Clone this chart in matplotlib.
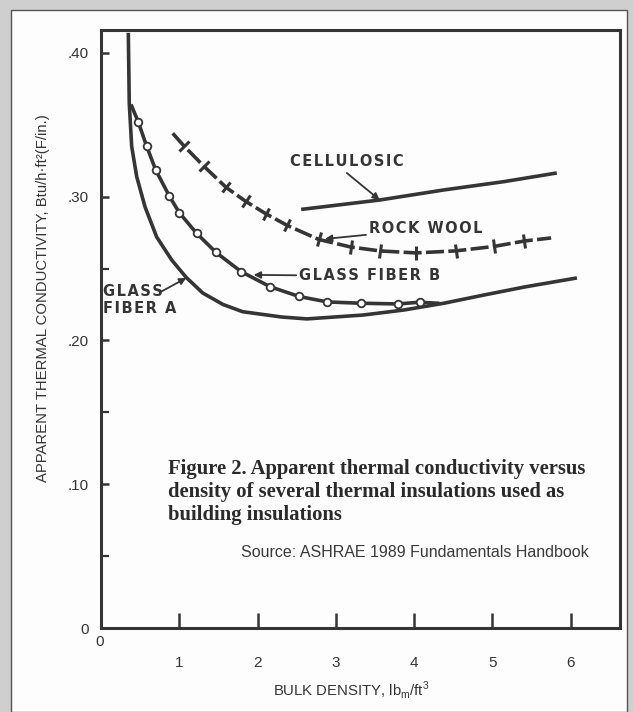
import numpy as np
import matplotlib
matplotlib.use("Agg")
import matplotlib.pyplot as plt
from matplotlib.patches import Rectangle
from matplotlib.markers import MarkerStyle
from matplotlib.transforms import Affine2D

# curves (density lb/ft3, k in Btu/h.ft2.(F/in.))
glass_a_x = [0.349, 0.361, 0.392, 0.456, 0.562, 0.711, 0.903, 1.086, 1.30, 1.56, 1.81,
             2.31, 2.63, 3.35, 3.87, 4.38, 4.90, 5.41, 6.08]
glass_a_y = [0.414, 0.365, 0.335, 0.314, 0.293, 0.272, 0.256, 0.244, 0.233, 0.225, 0.220,
             0.2163, 0.2150, 0.2177, 0.2212, 0.2259, 0.2317, 0.2372, 0.2435]

glass_b_x = [0.392, 0.476, 0.584, 0.699, 0.872, 1.00, 1.22, 1.47, 1.79, 2.16, 2.53,
             2.89, 3.32, 3.79, 4.07, 4.30]
glass_b_y = [0.363, 0.352, 0.335, 0.3186, 0.3005, 0.2889, 0.2746, 0.2612, 0.2479, 0.2374,
             0.2306, 0.2268, 0.2259, 0.2254, 0.2266, 0.2259]

rock_x = [0.916, 1.06, 1.31, 1.60, 1.85, 2.11, 2.38, 2.78, 3.19, 3.56, 4.02, 4.53, 5.02,
          5.41, 5.75]
rock_y = [0.3441, 0.3353, 0.3214, 0.3064, 0.2967, 0.2880, 0.2800, 0.2703, 0.2650, 0.2623,
          0.2609, 0.2623, 0.2654, 0.2692, 0.2713]

cell_x = [2.58, 3.56, 4.38, 5.15, 5.80]
cell_y = [0.2913, 0.2977, 0.3047, 0.3105, 0.3163]

x_ticks = [1, 2, 3, 4, 5, 6]
y_ticks = [0, 0.10, 0.20, 0.30, 0.40]
y_ticklabels = ["0", ".10", ".20", ".30", ".40"]

ink = "#353535"
W, H = 633, 712


def spaced(s):
    # the curve labels are set with wide letter spacing
    return "\u200a".join(s)


fig = plt.figure(figsize=(W / 100, H / 100), dpi=100, facecolor="#cfcfcf")
# white page with a thin frame, grey scan border around it
fig.patches.append(Rectangle((11 / W, 0), (627 - 11) / W, (H - 10) / H,
                             transform=fig.transFigure, fc="#fdfdfd", ec="#555555",
                             lw=1.0, zorder=-5))

ax = fig.add_axes([101 / W, (H - 628) / H, (620 - 101) / W, (628 - 29.5) / H])
ax.set_facecolor("none")
ax.set_xlim(0, 6.63)
ax.set_ylim(0, 0.4163)

for s in ax.spines.values():
    s.set_color(ink)
    s.set_linewidth(2.2)

ax.set_xticks(x_ticks)
ax.set_xticklabels([str(t) for t in x_ticks])
ax.set_yticks(y_ticks)
ax.set_yticklabels(y_ticklabels)
ax.set_yticks([0.05, 0.15, 0.25], minor=True)
ax.tick_params(axis="x", direction="in", length=11, width=1.8, color=ink, pad=20,
               labelsize=11, labelcolor=ink)
ax.tick_params(axis="y", direction="in", length=6, width=1.8, color=ink, pad=9,
               labelsize=11, labelcolor=ink)
ax.tick_params(axis="y", which="minor", direction="in", length=6, width=1.6, color=ink)
ax.tick_params(top=False, right=False)
for lab in ax.get_xticklabels() + ax.get_yticklabels():
    lab.set_fontfamily("Liberation Sans")
ax.annotate("0", xy=(0, 0), xytext=(-1, -10), textcoords="offset points",
            ha="center", va="center", fontsize=11, color=ink, family="Liberation Sans")

lw = 2.6
ax.plot(glass_a_x, glass_a_y, color=ink, lw=lw, solid_capstyle="butt")
ax.plot(glass_b_x, glass_b_y, color=ink, lw=lw)
ax.plot(glass_b_x[1:-1], glass_b_y[1:-1], ls="none", marker="o", ms=5.5,
        mfc="white", mec=ink, mew=1.3)
ax.plot(cell_x, cell_y, color=ink, lw=lw)
ax.plot(rock_x, rock_y, color=ink, lw=lw, dashes=(5, 1.2))

# cross ticks on the rock wool curve, turned perpendicular to the line
pts = ax.transData.transform(np.column_stack([rock_x, rock_y]))
for i in range(1, len(rock_x) - 1):
    d = pts[i + 1] - pts[i - 1]
    ang = np.degrees(np.arctan2(d[1], d[0]))
    m = MarkerStyle("|", transform=Affine2D().rotate_deg(ang))
    ax.plot(rock_x[i], rock_y[i], ls="none", marker=m, ms=10, mew=2.2, mec=ink)

lab_kw = dict(fontsize=10.5, color=ink, family="DejaVu Sans", fontweight="bold")
arr = dict(arrowstyle="-|>", color=ink, lw=1.3, mutation_scale=10, shrinkA=0, shrinkB=0)
ax.annotate(spaced("CELLULOSIC"), xy=(3.56, 0.2977),
            xytext=(2.41, 0.3242), va="center", ha="left", **lab_kw)
ax.annotate("", xy=(3.56, 0.2977), xytext=(3.14, 0.3165), arrowprops=arr)
ax.annotate(spaced("ROCK WOOL"), xy=(2.86, 0.2706), xytext=(3.42, 0.2776), va="center",
            ha="left", arrowprops=arr, **lab_kw)
ax.annotate(spaced("GLASS FIBER B"), xy=(1.95, 0.2456), xytext=(2.53, 0.2449),
            va="center", ha="left", arrowprops=arr, **lab_kw)
ax.annotate(spaced("GLASS") + "\n" + spaced("FIBER A"), xy=(1.09, 0.2435),
            xytext=(0.02, 0.2282), va="center", ha="left", linespacing=1.15, **lab_kw)
ax.annotate("", xy=(1.09, 0.2435), xytext=(0.77, 0.234), arrowprops=arr)

ax.text(0.85, 0.1175, "Figure 2. Apparent thermal conductivity versus\n"
        "density of several thermal insulations used as\nbuilding insulations",
        ha="left", va="top", fontsize=14.9, fontweight="bold", color="#2a2a2a",
        family="Liberation Serif", linespacing=1.2)
ax.text(6.23, 0.0522, "Source: ASHRAE 1989 Fundamentals Handbook", ha="right",
        va="center", fontsize=11.5, color="#3a3a3a", family="Liberation Sans")

fig.text(43 / W, (H - 298) / H, "APPARENT THERMAL CONDUCTIVITY, Btu/h\u00b7ft\u00b2(F/in.)",
         rotation=90, ha="center", va="center", fontsize=10.7, color=ink,
         family="Liberation Sans")
fig.text(351 / W, (H - 690) / H,
         r"BULK DENSITY, lb$_\mathregular{m}$/ft$^\mathregular{3}$",
         ha="center", va="center", fontsize=10.7, color=ink, family="Liberation Sans")

fig.savefig("out.png", dpi=100, facecolor=fig.get_facecolor())
